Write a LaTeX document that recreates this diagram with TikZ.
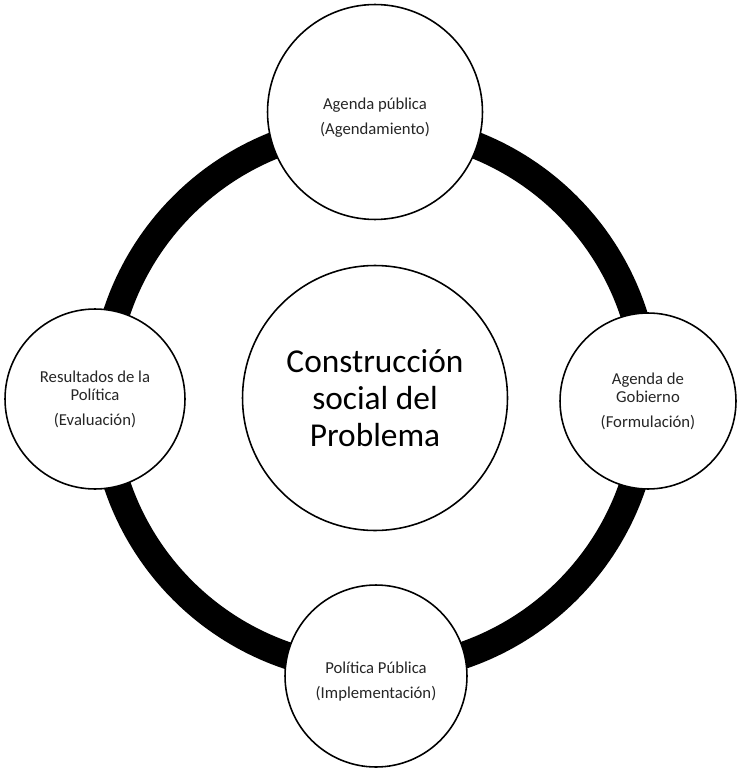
\documentclass[tikz,border=0pt]{standalone}
\usepackage{fontspec}
\setmainfont{Carlito}
\tikzset{etapa/.style={circle, draw, line width=0.9pt, fill=white,
  align=center, inner sep=0pt, text=black!85,
  font=\fontsize{9.5}{10.3}\selectfont}}
\tikzset{centro/.style={circle, draw, line width=0.9pt, fill=white,
  align=center, inner sep=0pt, minimum size=5.3cm,
  font=\fontsize{19}{21}\selectfont}}

\begin{document}
\begin{tikzpicture}[x=0.02cm, y=-0.02cm]
  \useasboundingbox (0,0) rectangle (738,770);
  \coordinate (eje) at (375,398);
  \draw[line width=0.54cm] (eje) circle[radius=272];
  \node[centro] (problema) at (eje) {Construcción\\social del\\Problema};
  \node[etapa, minimum size=4.3cm] (agenda) at (375,112)
    {\rule{0pt}{13pt}Agenda pública\\[4pt](Agendamiento)};
  \node[etapa, minimum size=3.52cm] (gobierno) at (648,401)
    {Agenda de\\Gobierno\\[4pt](Formulación)};
  \node[etapa, minimum size=3.64cm] (politica) at (376,676)
    {\rule{0pt}{13pt}Política Pública\\[4pt](Implementación)};
  \node[etapa, minimum size=3.6cm] (resultados) at (95,399)
    {Resultados de la\\Política\\[4pt](Evaluación)};
\end{tikzpicture}
\end{document}
